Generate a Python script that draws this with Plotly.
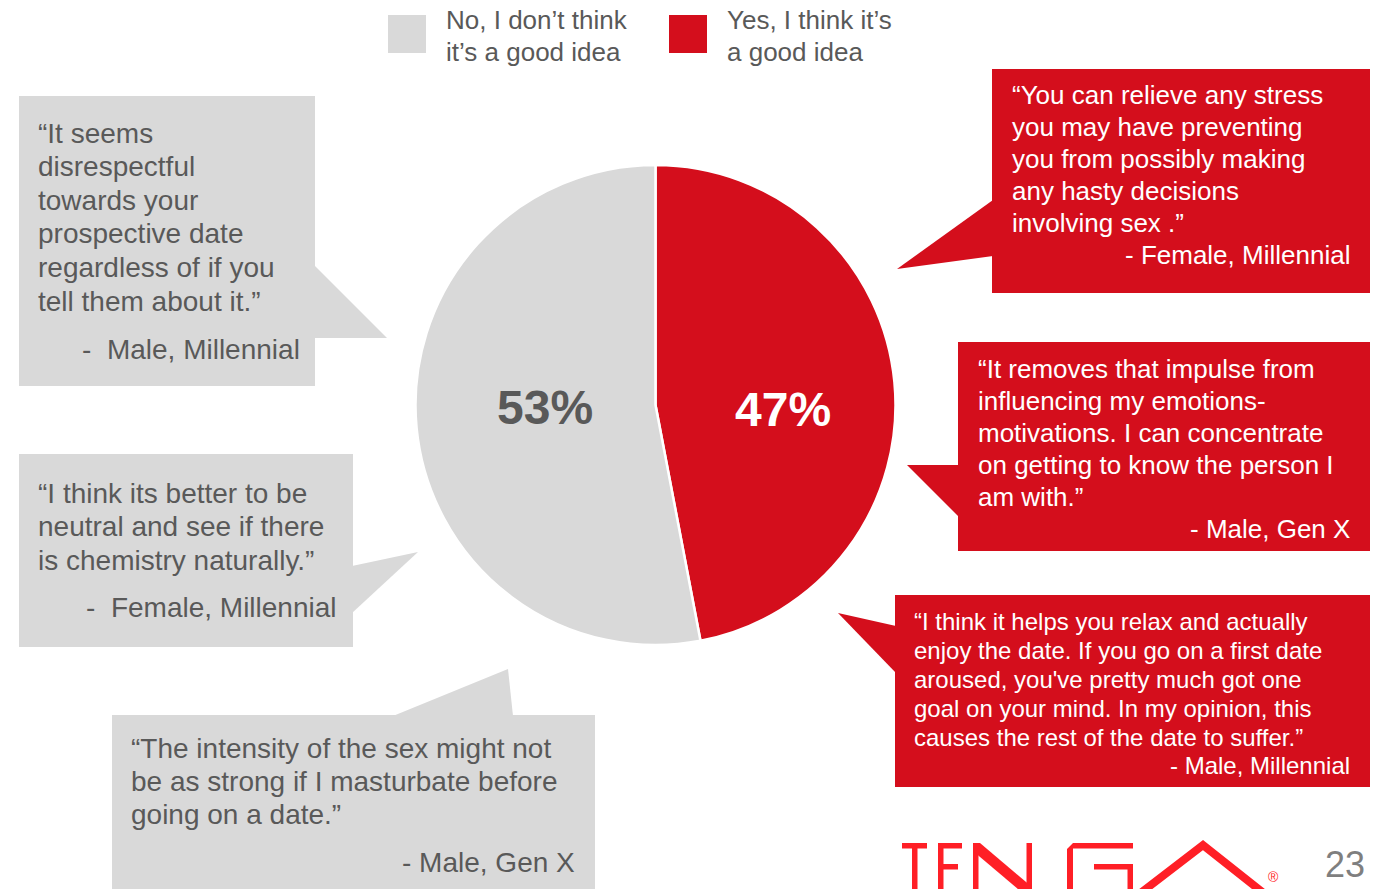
import plotly.graph_objects as go

# ---- data ----
categories = ["Yes, I think it’s a good idea", "No, I don’t think it’s a good idea"]
shares = [47, 53]
slice_colors = ["#d40e1c", "#d9d9d9"]
percent_colors = ["#ffffff", "#595959"]

legend_order = [1, 0]
legend_lines = {
    0: ["Yes, I think it’s", "a good idea"],
    1: ["No, I don’t think", "it’s a good idea"],
}

quote_no_1 = ["“It seems", "disrespectful", "towards your", "prospective date",
              "regardless of if you", "tell them about it.”"]
who_no_1 = "-  Male, Millennial"
quote_no_2 = ["“I think its better to be", "neutral and see if there",
              "is chemistry naturally.”"]
who_no_2 = "-  Female, Millennial"
quote_no_3 = ["“The intensity of the sex might not", "be as strong if I masturbate before",
              "going on a date.”"]
who_no_3 = "- Male, Gen X"
quote_yes_1 = ["“You can relieve any stress", "you may have preventing",
               "you from possibly making", "any hasty decisions", "involving sex .”"]
who_yes_1 = "- Female, Millennial"
quote_yes_2 = ["“It removes that impulse from", "influencing my emotions-",
               "motivations. I can concentrate", "on getting to know the person I",
               "am with.”"]
who_yes_2 = "- Male, Gen X"
quote_yes_3 = ["“I think it helps you relax and actually",
               "enjoy the date. If you go on a first date",
               "aroused, you've pretty much got one",
               "goal on your mind. In my opinion, this",
               "causes the rest of the date to suffer.”"]
who_yes_3 = "- Male, Millennial"

page_number = "23"

W, H = 1380, 889
FONT = "Liberation Sans, Arial, sans-serif"
RED = "#d40e1c"
GRAY = "#d9d9d9"
TXT = "#595959"
LOGO = "#ff1f26"

fig = go.Figure()

# pie: centre (655.5, 405) px, radius 240 px
cx, cy, r = 655.5, 405, 240
fig.add_trace(go.Pie(
    labels=categories, values=shares, sort=False, direction="clockwise",
    rotation=0,
    marker=dict(colors=slice_colors, line=dict(color="white", width=2.5)),
    textinfo="none", hoverinfo="label+percent", showlegend=False,
    domain=dict(x=[(cx - r) / W, (cx + r) / W], y=[(H - cy - r) / H, (H - cy + r) / H]),
))

# invisible pixel axes for shapes and text
fig.update_xaxes(range=[0, W], visible=False, fixedrange=True)
fig.update_yaxes(range=[H, 0], visible=False, fixedrange=True)
fig.add_trace(go.Scatter(x=[0, W], y=[0, H], mode="markers",
                         marker=dict(opacity=0), hoverinfo="skip", showlegend=False))

shapes = []
annotations = []


def rect(x0, y0, x1, y1, color):
    shapes.append(dict(type="rect", xref="x", yref="y", x0=x0, y0=y0, x1=x1, y1=y1,
                       fillcolor=color, line=dict(width=0), layer="below"))


def poly(points, color, layer="below"):
    d = "M " + " L ".join(f"{x},{y}" for x, y in points) + " Z"
    shapes.append(dict(type="path", xref="x", yref="y", path=d,
                       fillcolor=color, line=dict(width=0), layer=layer))


def text(x, y, s, size, color, anchor="left", bold=False):
    # annotation boxes carry ~2px of padding; compensate so glyphs start at x
    if anchor == "left":
        x -= 2
    elif anchor == "right":
        x += 2
    annotations.append(dict(
        x=x, y=y, xref="x", yref="y", text=f"<b>{s}</b>" if bold else s,
        showarrow=False, xanchor=anchor, yanchor="middle",
        font=dict(family=FONT, size=size, color=color)))


def lines(x, y0, step, rows, size, color):
    for i, s in enumerate(rows):
        text(x, y0 + i * step, s, size, color)


# percentage labels from the values
pct_pos = [(783, 409), (545, 407)]
for v, c, (px, py) in zip(shares, percent_colors, pct_pos):
    text(px, py, f"{v}%", 48, c, anchor="center", bold=True)

# legend
legend_x = {1: 388, 0: 669}
for i in legend_order:
    x0 = legend_x[i]
    rect(x0, 15, x0 + 38, 53, slice_colors[i])
    lines(x0 + 58, 20, 32, legend_lines[i], 26, TXT)

# callout 1 (left, top)
rect(19, 96, 315, 386, GRAY)
poly([(314, 265), (387, 338), (314, 338)], GRAY)
lines(38, 133, 33.6, quote_no_1, 28, TXT)
text(82, 349, who_no_1, 28, TXT)

# callout 2 (left, middle)
rect(19, 454, 353, 647, GRAY)
poly([(352, 566), (418, 552), (352, 613)], GRAY)
lines(38, 493, 33.6, quote_no_2, 28, TXT)
text(86, 607, who_no_2, 28, TXT)

# callout 3 (bottom)
rect(112, 715, 595, 895, GRAY)
poly([(393, 716), (508, 669), (513, 716)], GRAY)
lines(131, 748, 33, quote_no_3, 28, TXT)
text(575, 862, who_no_3, 28, TXT, anchor="right")

# callout 4 (right, top)
rect(992, 69, 1370, 293, RED)
poly([(993, 200), (897, 269), (993, 256)], RED)
lines(1012, 95, 32, quote_yes_1, 26, "white")
text(1350, 255, who_yes_1, 26, "white", anchor="right")

# callout 5 (right, middle)
rect(958, 342, 1370, 551, RED)
poly([(959, 465), (907, 465), (959, 517)], RED)
lines(978, 369, 32, quote_yes_2, 26, "white")
text(1350, 529, who_yes_2, 26, "white", anchor="right")

# callout 6 (right, bottom)
rect(895, 595, 1370, 787, RED)
poly([(896, 626), (838, 613), (896, 673)], RED)
lines(914, 621, 29, quote_yes_3, 24, "white")
text(1350, 765, who_yes_3, 24, "white", anchor="right")

# brand mark (letters run off the lower edge)
# T
rect(902, 843, 927, 848.5, LOGO)
rect(912, 843, 917.5, 895, LOGO)
# E
rect(938, 843, 943.5, 895, LOGO)
rect(938, 843, 962, 848.5, LOGO)
rect(938, 864, 958, 869.5, LOGO)
# N
rect(973, 843, 978.5, 895, LOGO)
rect(1026.5, 843, 1032, 895, LOGO)
poly([(973, 843), (980, 843), (1032, 887), (1032, 895), (1025, 895), (973, 851)], LOGO)
# G
poly([(1067, 895), (1067, 849), (1073, 843), (1133, 843), (1133, 848.5),
      (1073, 848.5), (1073, 895)], LOGO)
rect(1094, 864, 1133, 869.5, LOGO)
rect(1127.5, 864, 1133, 895, LOGO)
# A
shapes.append(dict(type="path", xref="x", yref="y",
                   path="M 1138,895 L 1203,845 L 1266,895",
                   line=dict(color=LOGO, width=8), layer="below"))
text(1273, 877, "®", 14, LOGO, anchor="center")

# page number
text(1345, 864, page_number, 36, "#7f7f7f", anchor="center")

fig.update_layout(
    width=W, height=H, margin=dict(l=0, r=0, t=0, b=0),
    paper_bgcolor="white", plot_bgcolor="rgba(0,0,0,0)",
    shapes=shapes, annotations=annotations, showlegend=False,
)

fig.write_html("out.html", config={"displayModeBar": False})
